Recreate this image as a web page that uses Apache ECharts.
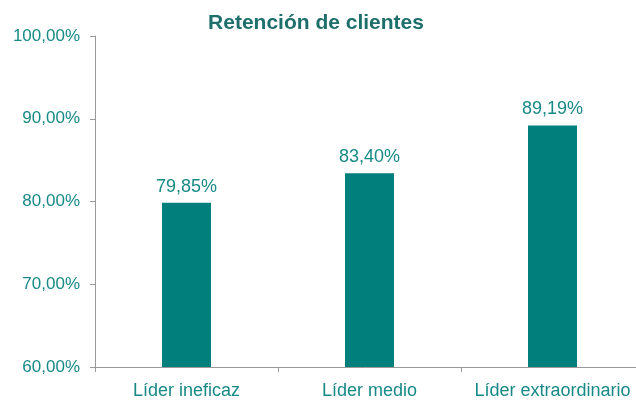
<!DOCTYPE html>
<html>
<head>
<meta charset="utf-8">
<script src="https://cdn.jsdelivr.net/npm/echarts@6/dist/echarts.min.js"></script>
<style>
  html, body { margin: 0; padding: 0; background: #fff; }
  #chart { width: 636px; height: 400px; }
</style>
</head>
<body>
<div id="chart"></div>
<script>
const categories = ["Líder ineficaz", "Líder medio", "Líder extraordinario"];
const retention = [79.85, 83.40, 89.19];

const fmt = (v) => v.toFixed(2).replace(".", ",") + "%";

// 基于准备好的dom，初始化echarts实例
const myChart = echarts.init(document.getElementById("chart"));
myChart.setOption({
  animation: false,
  title: {
    text: "Retención de clientes",
    left: 311,
    textAlign: "center",
    top: 8,
    textStyle: {
      color: "#1e6f6c",
      fontFamily: "Liberation Sans",
      fontSize: 21,
      fontWeight: "bold",
    },
  },
  grid: {
    left: 95,
    right: -8,
    top: 36,
    bottom: 33,
    outerBoundsMode: "none",
  },
  xAxis: {
    type: "category",
    data: categories,
    axisLine: { lineStyle: { color: "#9a9a9a", width: 1 } },
    axisTick: { show: true, interval: 0, length: 5, lineStyle: { color: "#9a9a9a" } },
    axisLabel: {
      interval: 0,
      hideOverlap: false,
      color: "#178a86",
      fontFamily: "Liberation Sans",
      fontSize: 18,
      margin: 15,
    },
  },
  yAxis: {
    type: "value",
    min: 60,
    max: 100,
    interval: 10,
    axisLine: { show: true, lineStyle: { color: "#9a9a9a", width: 1 } },
    axisTick: { show: true, length: 5, lineStyle: { color: "#9a9a9a" } },
    splitLine: { show: false },
    axisLabel: {
      color: "#178a86",
      fontFamily: "Liberation Sans",
      fontSize: 17,
      margin: 15,
      formatter: (v) => fmt(v),
    },
  },
  series: [
    {
      type: "bar",
      data: retention,
      barWidth: 49,
      itemStyle: { color: "#007f7d" },
      label: {
        show: true,
        position: "top",
        distance: 7,
        color: "#178a86",
        fontFamily: "Liberation Sans",
        fontSize: 18,
        formatter: (p) => fmt(p.value),
      },
    },
  ],
});
</script>
</body>
</html>
